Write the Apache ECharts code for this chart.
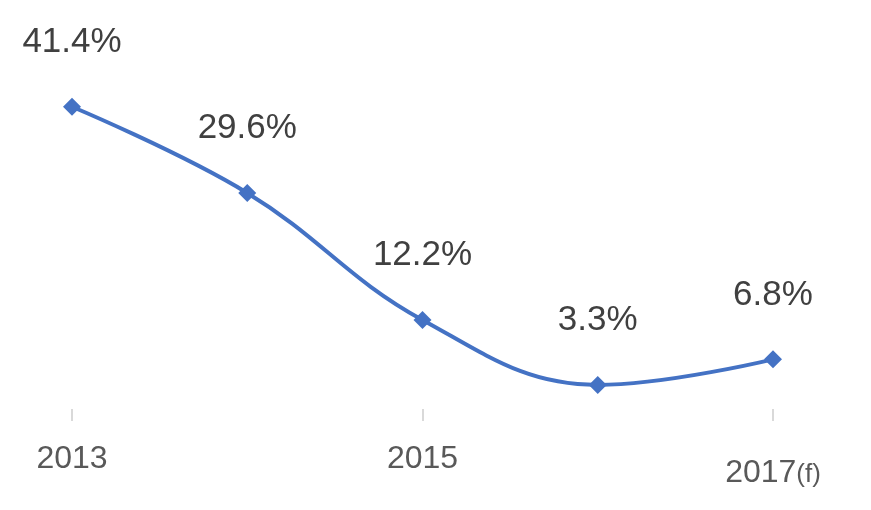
<!DOCTYPE html>
<html><head><meta charset="utf-8">
<script src="https://cdn.jsdelivr.net/npm/echarts@6/dist/echarts.min.js"></script>
<style>html,body{margin:0;padding:0;background:#fff}#c{width:871px;height:510px}</style>
</head><body><div id="c"></div>
<script>
const categories = ['2013','2014','2015','2016','2017(f)'];
const values = [41.4, 29.6, 12.2, 3.3, 6.8];
const chart = echarts.init(document.getElementById('c'));
chart.setOption({
  animation:false,
  grid:{left:72,right:98,top:44,bottom:101},
  xAxis:{type:'category',data:categories,boundaryGap:false,
    axisLine:{show:false},
    axisTick:{show:true,length:12,lineStyle:{color:'#d9d9d9',width:2},alignWithLabel:true},
    axisLabel:{margin:34,color:'#595959',fontSize:32,fontFamily:'Liberation Sans',
      formatter:v=>v.endsWith('(f)')?'{b|'+v.replace('(f)','')+'}{s|(f)}':v,
      rich:{b:{fontSize:32,color:'#595959',fontFamily:'Liberation Sans',padding:[14,0,0,0]},
            s:{fontSize:26,color:'#595959',fontFamily:'Liberation Sans',padding:[18,0,0,0]}}}},
  yAxis:{type:'value',min:0,max:50,show:false},
  series:[{type:'line',data:values,smooth:0.4,symbol:'diamond',symbolSize:18,
    lineStyle:{color:'#4472C4',width:4},itemStyle:{color:'#4472C4'},
    label:{show:true,position:'top',distance:38,fontSize:35,color:'#404040',fontFamily:'Liberation Sans',
      formatter:p=>p.value.toFixed(1)+'%'}}]
});
</script></body></html>
